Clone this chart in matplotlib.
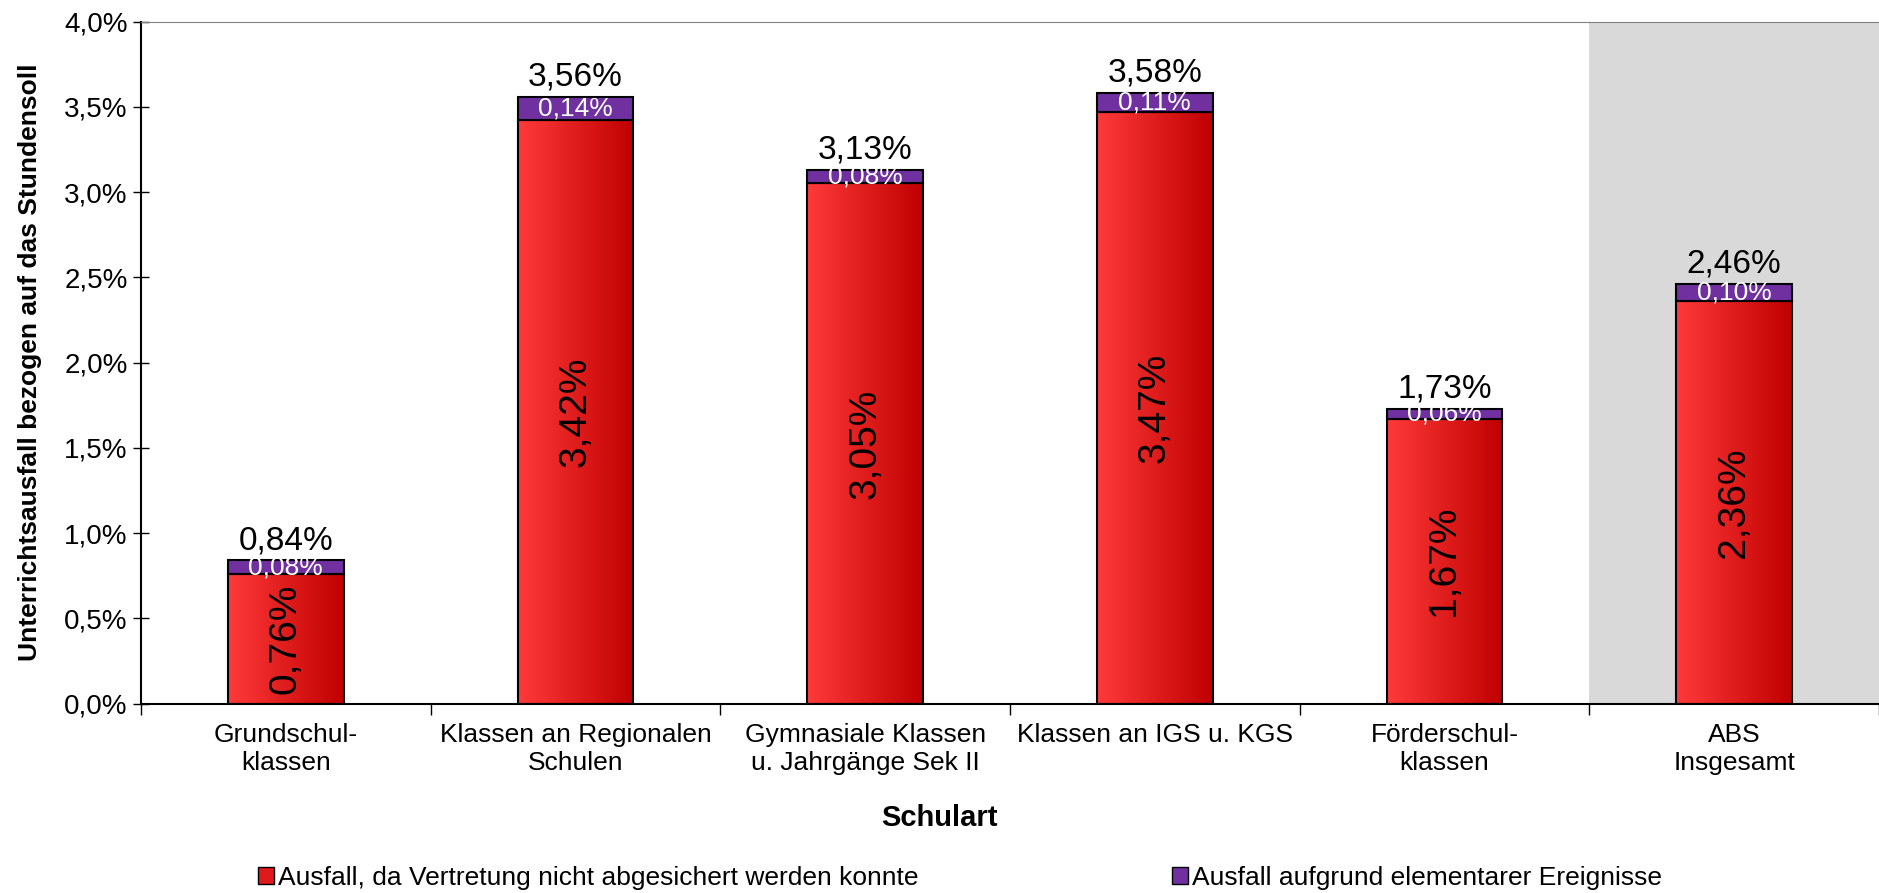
import numpy as np
import matplotlib.pyplot as plt
from matplotlib.patches import Patch
from matplotlib.colors import LinearSegmentedColormap
from matplotlib.ticker import FuncFormatter, FixedLocator

plt.rcParams['font.family'] = ['Liberation Sans', 'DejaVu Sans']

# data
categories = ["Grundschul-\nklassen", "Klassen an Regionalen\nSchulen",
              "Gymnasiale Klassen\nu. Jahrgänge Sek II", "Klassen an IGS u. KGS",
              "Förderschul-\nklassen", "ABS\nInsgesamt"]
vertretung = [0.76, 3.42, 3.05, 3.47, 1.67, 2.36]
elementar = [0.08, 0.14, 0.08, 0.11, 0.06, 0.10]
totals = [0.84, 3.56, 3.13, 3.58, 1.73, 2.46]
series_names = ["Ausfall, da Vertretung nicht abgesichert werden konnte",
                "Ausfall aufgrund elementarer Ereignisse"]

red_cmap = LinearSegmentedColormap.from_list("redgrad", ["#FF3A3A", "#C00000"])
purple = "#7030A0"

fig = plt.figure(figsize=(18.79, 8.93), dpi=100)
ax = fig.add_axes([0.075, 0.2122, 0.925, 0.7637])

x = np.arange(len(categories))
width = 0.4

# grey area behind the total column
ax.axvspan(4.5, 5.5, color="#D9D9D9", zorder=0, lw=0)

bars = ax.bar(x, vertretung, width, facecolor="none", edgecolor="black", lw=1.5, zorder=3)
# gradient fill for red bars
grad = np.linspace(0, 1, 256).reshape(1, -1)
for b in bars:
    im = ax.imshow(grad, cmap=red_cmap, aspect="auto", zorder=2,
                   extent=[b.get_x(), b.get_x() + b.get_width(), 0, b.get_height()])
    im.set_clip_path(b)

ax.bar(x, elementar, width, bottom=vertretung, color=purple, edgecolor="black", lw=1.5, zorder=3)

for i in range(len(categories)):
    ax.text(x[i], vertretung[i] / 2, f"{vertretung[i]:.2f}%".replace(".", ","),
            rotation=90, ha="center", va="center", fontsize=28, zorder=5)
    ax.text(x[i], vertretung[i] + elementar[i] / 2, f"{elementar[i]:.2f}%".replace(".", ","),
            ha="center", va="center", fontsize=19, color="white", zorder=5)
    ax.annotate(f"{totals[i]:.2f}%".replace(".", ","), (x[i], totals[i]),
                xytext=(0, 3), textcoords="offset points",
                ha="center", va="bottom", fontsize=24, zorder=5)

ax.set_xlim(-0.5, 5.5)
ax.set_ylim(0, 4.0)
ax.set_yticks(np.arange(0, 4.01, 0.5))
ax.yaxis.set_major_formatter(FuncFormatter(lambda v, p: f"{v:.1f}%".replace(".", ",")))
ax.tick_params(axis="y", labelsize=20, direction="inout", length=12, width=1)

ax.xaxis.set_major_locator(FixedLocator(np.arange(-0.5, 6, 1)))
ax.xaxis.set_major_formatter(FuncFormatter(lambda v, p: ""))
ax.xaxis.set_minor_locator(FixedLocator(x))
ax.set_xticklabels(categories, minor=True)
ax.tick_params(axis="x", which="major", direction="out", length=8, width=1)
ax.tick_params(axis="x", which="minor", length=0, labelsize=19, pad=14)

ax.spines["right"].set_visible(False)
ax.spines["top"].set_color("#808080")
ax.spines["left"].set_linewidth(1.5)
ax.spines["bottom"].set_linewidth(1.5)

ax.set_ylabel("Unterrichtsausfall bezogen auf das Stundensoll", fontsize=19,
              fontweight="bold", labelpad=16)
fig.text(0.5, 0.084, "Schulart", fontsize=21, fontweight="bold", ha="center", va="center")

handles = [Patch(facecolor="#E01A1A", edgecolor="black"),
           Patch(facecolor=purple, edgecolor="black")]
fig.legend(handles, series_names, loc="center", bbox_to_anchor=(0.511, 0.017), ncol=2,
           frameon=False, fontsize=19, handlelength=0.6, handleheight=0.6,
           handletextpad=0.15, columnspacing=9.6)

fig.savefig("out.png", dpi=100)
